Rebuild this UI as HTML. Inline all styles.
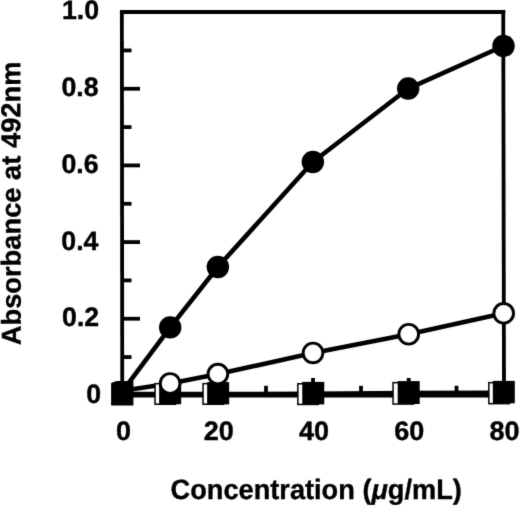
<!DOCTYPE html>
<html><head><meta charset="utf-8"><style>
html,body{margin:0;padding:0;background:#fff;font-family:"Liberation Sans",sans-serif;}
body{width:520px;height:506px;overflow:hidden;}
svg{display:block;will-change:transform;}
</style></head><body>
<svg width="520" height="506" viewBox="0 0 520 506">
<defs><filter id="bl" x="0" y="0" width="520" height="506" filterUnits="userSpaceOnUse" color-interpolation-filters="sRGB"><feConvolveMatrix order="3" kernelMatrix="0.01134 0.08382 0.01134 0.08382 0.61935 0.08382 0.01134 0.08382 0.01134" edgeMode="duplicate" preserveAlpha="true"/></filter></defs>
<g filter="url(#bl)">
<rect width="520" height="506" fill="#fff"/>
<path d="M121.85,10.1 L122.25,397" stroke="#000" stroke-width="3.8" fill="none"/>
<path d="M120.1,12 H505.3" stroke="#000" stroke-width="3.8" fill="none"/>
<path d="M503.25,10.1 L504.0,397" stroke="#000" stroke-width="3.8" fill="none"/>
<path d="M120.1,395.5 H505.3" stroke="#000" stroke-width="4.2" fill="none"/>
<polyline points="122.6,394.0 218,394.0 313,393.6 408.7,393.0 503.8,392.6" stroke="#000" stroke-width="4.3" fill="none" stroke-linejoin="round"/>
<path d="M122,357.07 H131.5" stroke="#000" stroke-width="3.8"/>
<path d="M122,318.74 H140" stroke="#000" stroke-width="3.8"/>
<path d="M122,280.41 H131.5" stroke="#000" stroke-width="3.8"/>
<path d="M122,242.08 H140" stroke="#000" stroke-width="3.8"/>
<path d="M122,203.75 H131.5" stroke="#000" stroke-width="3.8"/>
<path d="M122,165.42 H140" stroke="#000" stroke-width="3.8"/>
<path d="M122,127.09 H131.5" stroke="#000" stroke-width="3.8"/>
<path d="M122,88.76 H140" stroke="#000" stroke-width="3.8"/>
<path d="M122,50.43 H131.5" stroke="#000" stroke-width="3.8"/>
<path d="M266.00,394 V385.8" stroke="#000" stroke-width="3.8"/>
<path d="M313.00,394 V378" stroke="#000" stroke-width="3.8"/>
<path d="M361.00,394 V385.8" stroke="#000" stroke-width="3.8"/>
<path d="M408.70,394 V378" stroke="#000" stroke-width="3.8"/>
<path d="M456.50,394 V385.8" stroke="#000" stroke-width="3.8"/>
<path d="M218.00,394 V378" stroke="#000" stroke-width="3.8"/>
<path d="M170.20,394 V385.8" stroke="#000" stroke-width="3.8"/>
<polyline points="122.6,390.8 170.1,383.5 217.9,374.1 313.0,352.95 408.7,334.25 503.7,313.35" fill="none" stroke="#000" stroke-width="4.6" stroke-linejoin="round"/>
<polyline points="122.6,391.1 170.2,327.4 217.85,267.0 312.85,162.0 408.2,88.55 503.5,46.0" fill="none" stroke="#000" stroke-width="4.6" stroke-linejoin="round"/>
<rect x="155.05" y="383.65" width="20.5" height="20.60" fill="#fff" stroke="#000" stroke-width="1.5"/>
<rect x="159.15" y="382.2" width="22" height="22.00" fill="#000"/>
<rect x="203.05" y="383.65" width="20.5" height="20.60" fill="#fff" stroke="#000" stroke-width="1.5"/>
<rect x="207.15" y="382.1" width="22" height="22.30" fill="#000"/>
<rect x="297.85" y="383.75" width="20.5" height="20.70" fill="#fff" stroke="#000" stroke-width="1.5"/>
<rect x="302.25" y="381.9" width="22" height="22.50" fill="#000"/>
<rect x="393.05" y="382.65" width="20.5" height="21.40" fill="#fff" stroke="#000" stroke-width="1.5"/>
<rect x="397.70" y="381.1" width="22" height="22.90" fill="#000"/>
<rect x="488.85" y="382.65" width="20.5" height="21.00" fill="#fff" stroke="#000" stroke-width="1.5"/>
<rect x="492.80" y="380.9" width="22" height="22.40" fill="#000"/>
<path d="M111.1,383.1 L116.5,381 L133.4,381 L133.4,405.4 L111.1,405.4 Z" fill="#000"/>
<circle cx="170.1" cy="383.5" r="9.85" fill="#fff" stroke="#000" stroke-width="2.9"/>
<circle cx="217.9" cy="374.1" r="9.85" fill="#fff" stroke="#000" stroke-width="2.9"/>
<circle cx="313.0" cy="352.95" r="9.85" fill="#fff" stroke="#000" stroke-width="2.9"/>
<circle cx="408.7" cy="334.25" r="9.85" fill="#fff" stroke="#000" stroke-width="2.9"/>
<circle cx="503.7" cy="313.35" r="9.85" fill="#fff" stroke="#000" stroke-width="2.9"/>
<circle cx="170.2" cy="327.4" r="11.2" fill="#000"/>
<circle cx="217.85" cy="267.0" r="11.2" fill="#000"/>
<circle cx="312.85" cy="162.0" r="11.2" fill="#000"/>
<circle cx="408.2" cy="88.55" r="11.2" fill="#000"/>
<circle cx="503.5" cy="46.0" r="11.2" fill="#000"/>
<g font-family="Liberation Sans, sans-serif" font-weight="bold" fill="#000" stroke="#000" text-rendering="geometricPrecision">
<text transform="translate(99.0,19) scale(1,1.0)" font-size="26.7" stroke-width="0.4" text-anchor="end">1.0</text>
<text transform="translate(98.5,96) scale(1,1.0)" font-size="26.7" stroke-width="0.4" text-anchor="end">0.8</text>
<text transform="translate(98.6,173) scale(1,1.0)" font-size="26.7" stroke-width="0.4" text-anchor="end">0.6</text>
<text transform="translate(98.4,250) scale(1,1.0)" font-size="26.7" stroke-width="0.4" text-anchor="end">0.4</text>
<text transform="translate(99.15,326) scale(1,1.0)" font-size="26.7" stroke-width="0.4" text-anchor="end">0.2</text>
<text transform="translate(101.0,403) scale(1,1.0)" font-size="26.7" stroke-width="0.4" text-anchor="end">0</text>
<text transform="translate(123.50,440) scale(1,0.99)" font-size="27.0" stroke-width="0.4" text-anchor="middle">0</text>
<text transform="translate(218.74,440) scale(1,0.99)" font-size="27.0" stroke-width="0.4" text-anchor="middle">20</text>
<text transform="translate(313.98,440) scale(1,0.99)" font-size="27.0" stroke-width="0.4" text-anchor="middle">40</text>
<text transform="translate(409.22,440) scale(1,0.99)" font-size="27.0" stroke-width="0.4" text-anchor="middle">60</text>
<text transform="translate(504.46,440) scale(1,0.99)" font-size="27.0" stroke-width="0.4" text-anchor="middle">80</text>
<text transform="translate(316.2,498.75) scale(1,1.03)" text-anchor="middle" font-size="27.2" stroke-width="0.35">Concentration (<tspan font-style="italic">μ</tspan>g/mL)</text>
<text transform="translate(20.45,203.4) rotate(-90.14)" text-anchor="middle" font-size="27.3" stroke-width="0.35">Absorbance at 492nm</text>
</g>
</g>
</svg>
</body></html>
